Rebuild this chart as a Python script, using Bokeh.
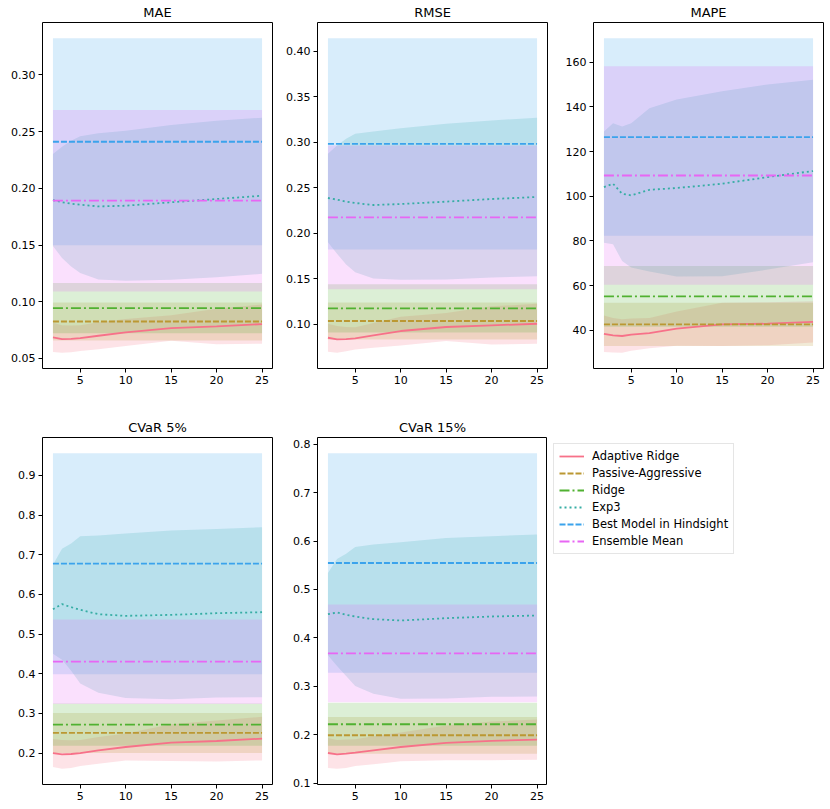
from bokeh.plotting import figure
from bokeh.models import Range1d, FixedTicker, NumeralTickFormatter, Legend, LegendItem
from bokeh.layouts import column, row
from bokeh.embed import file_html
from bokeh.resources import INLINE

# ---------------- data ----------------
X_STEPS = [2, 3, 4, 5, 7, 10, 15, 20, 25]
X_TICKS = [5, 10, 15, 20, 25]
METHODS = ["Adaptive Ridge", "Passive-Aggressive", "Ridge", "Exp3",
           "Best Model in Hindsight", "Ensemble Mean"]
COLORS = ["#f77189", "#bb9832", "#50b131", "#36ada4", "#3ba3ec", "#e866f4"]
DASHES = ["solid", "6 2", "10 3 2 3", "2 3", "6 2", "10 3 2 3"]

# MAE
MAE_AR_MEAN = [0.0685, 0.0671, 0.0673, 0.0679, 0.0700, 0.0729, 0.0768, 0.0782, 0.0803]
MAE_AR_STD = [0.0129, 0.0121, 0.0118, 0.0114, 0.0120, 0.0119, 0.0112, 0.0157, 0.0173]
MAE_EXP3_MEAN = [0.1897, 0.1877, 0.1865, 0.1856, 0.1841, 0.1847, 0.1877, 0.1906, 0.1935]
MAE_EXP3_STD = [0.0406, 0.0491, 0.0555, 0.0603, 0.0644, 0.0662, 0.0682, 0.0691, 0.0688]
MAE_CONST_MEAN = [0.0826, 0.0944, 0.2411, 0.1891]   # PA, Ridge, Best, Ensemble
MAE_CONST_STD = [0.0168, 0.0221, 0.0913, 0.0800]
MAE_TICKS = [0.05, 0.10, 0.15, 0.20, 0.25, 0.30]

# RMSE
RMSE_AR_MEAN = [0.0853, 0.0835, 0.0838, 0.0846, 0.0879, 0.0927, 0.0971, 0.0989, 0.1007]
RMSE_AR_STD = [0.0154, 0.0147, 0.0132, 0.0121, 0.0136, 0.0158, 0.0155, 0.0209, 0.0220]
RMSE_EXP3_MEAN = [0.2388, 0.2370, 0.2348, 0.2333, 0.2311, 0.2322, 0.2348, 0.2377, 0.2399]
RMSE_EXP3_STD = [0.0485, 0.0594, 0.0690, 0.0760, 0.0808, 0.0833, 0.0855, 0.0863, 0.0870]
RMSE_CONST_MEAN = [0.1037, 0.1176, 0.2983, 0.2175]
RMSE_CONST_STD = [0.0202, 0.0264, 0.1160, 0.0789]
RMSE_TICKS = [0.10, 0.15, 0.20, 0.25, 0.30, 0.35, 0.40]

# MAPE
MAPE_AR_MEAN = [38.5, 37.8, 37.5, 38.1, 38.8, 40.8, 42.7, 43.0, 43.8]
MAPE_AR_STD = [8.2, 7.7, 7.5, 7.2, 6.8, 7.7, 9.7, 9.6, 9.2]
MAPE_EXP3_MEAN = [104.1, 105.6, 101.1, 100.4, 102.9, 103.7, 105.6, 108.6, 111.3]
MAPE_EXP3_STD = [24.9, 27.1, 30.1, 32.3, 36.5, 39.6, 41.4, 41.4, 40.8]
MAPE_CONST_MEAN = [42.7, 55.2, 126.5, 109.3]
MAPE_CONST_STD = [9.7, 13.6, 44.2, 48.9]
MAPE_TICKS = [40, 60, 80, 100, 120, 140, 160]

# CVaR 5%
CV5_AR_MEAN = [0.2000, 0.1966, 0.1975, 0.2000, 0.2067, 0.2152, 0.2261, 0.2303, 0.2363]
CV5_AR_STD = [0.0354, 0.0362, 0.0350, 0.0329, 0.0337, 0.0338, 0.0464, 0.0514, 0.0549]
CV5_EXP3_MEAN = [0.5626, 0.5753, 0.5677, 0.5610, 0.5500, 0.5458, 0.5483, 0.5525, 0.5550]
CV5_EXP3_STD = [0.1122, 0.1400, 0.1603, 0.1855, 0.1982, 0.2074, 0.2125, 0.2125, 0.2143]
CV5_CONST_MEAN = [0.2506, 0.2717, 0.6773, 0.4302]
CV5_CONST_STD = [0.0506, 0.0531, 0.2784, 0.1065]
CV5_TICKS = [0.2, 0.3, 0.4, 0.5, 0.6, 0.7, 0.8, 0.9]

# CVaR 15%
CV15_AR_MEAN = [0.1622, 0.1594, 0.1608, 0.1629, 0.1677, 0.1746, 0.1829, 0.1871, 0.1898]
CV15_AR_STD = [0.0311, 0.0297, 0.0294, 0.0277, 0.0290, 0.0297, 0.0359, 0.0401, 0.0414]
CV15_EXP3_MEAN = [0.4490, 0.4524, 0.4476, 0.4441, 0.4386, 0.4358, 0.4407, 0.4441, 0.4462]
CV15_EXP3_STD = [0.0850, 0.1106, 0.1264, 0.1437, 0.1541, 0.1617, 0.1658, 0.1659, 0.1672]
CV15_CONST_MEAN = [0.1988, 0.2216, 0.5547, 0.3681]
CV15_CONST_STD = [0.0380, 0.0442, 0.2266, 0.1009]
CV15_TICKS = [0.1, 0.2, 0.3, 0.4, 0.5, 0.6, 0.7, 0.8]

FONT = "DejaVu Sans"
LW = 1.8


def series_list(ar_m, ar_s, ex_m, ex_s, c_m, c_s):
    n = len(X_STEPS)
    const = [([m] * n, [s] * n) for m, s in zip(c_m, c_s)]
    return [(ar_m, ar_s), const[0], const[1], (ex_m, ex_s), const[2], const[3]]


def make_panel(title, series, ticks, fmt, width, height, bl, br, bt, bb):
    lows = [m - s for mm, ss in series for m, s in zip(mm, ss)]
    highs = [m + s for mm, ss in series for m, s in zip(mm, ss)]
    lo, hi = min(lows), max(highs)
    pad = 0.05 * (hi - lo)
    xpad = 0.05 * (X_STEPS[-1] - X_STEPS[0])
    p = figure(width=width, height=height, output_backend="svg", toolbar_location=None,
               x_range=Range1d(X_STEPS[0] - xpad, X_STEPS[-1] + xpad),
               y_range=Range1d(lo - pad, hi + pad),
               min_border_left=bl, min_border_right=br, min_border_top=bt, min_border_bottom=bb)
    p.title.text = title
    p.title.align = "center"
    p.title.text_font = FONT
    p.title.text_font_size = "13px"
    p.title.text_font_style = "normal"
    p.title.text_color = "black"
    p.title.standoff = 5
    p.xgrid.visible = False
    p.ygrid.visible = False
    p.outline_line_color = "black"
    p.outline_line_alpha = 1
    p.outline_line_width = 1
    p.background_fill_color = "white"
    p.border_fill_color = "white"
    p.xaxis.ticker = FixedTicker(ticks=X_TICKS)
    p.yaxis.ticker = FixedTicker(ticks=ticks)
    p.yaxis.formatter = NumeralTickFormatter(format=fmt)
    for ax in (p.xaxis[0], p.yaxis[0]):
        ax.axis_line_color = None
        ax.major_tick_line_color = "black"
        ax.major_tick_out = 4
        ax.major_tick_in = 0
        ax.minor_tick_line_color = None
        ax.major_label_text_font = FONT
        ax.major_label_text_font_size = "11px"
        ax.major_label_text_color = "black"
        ax.major_label_standoff = 3
    # bands first (below), then all lines on top
    for (mm, ss), col in zip(series, COLORS):
        p.varea(x=X_STEPS, y1=[m - s for m, s in zip(mm, ss)],
                y2=[m + s for m, s in zip(mm, ss)], fill_color=col, fill_alpha=0.2)
    for (mm, ss), col, dash in zip(series, COLORS, DASHES):
        p.line(X_STEPS, mm, line_color=col, line_width=LW, line_dash=dash)
    return p


H1, H2 = 415, 393
p1 = make_panel("MAE", series_list(MAE_AR_MEAN, MAE_AR_STD, MAE_EXP3_MEAN, MAE_EXP3_STD,
                                   MAE_CONST_MEAN, MAE_CONST_STD),
                MAE_TICKS, "0.00", 283, H1, 42, 11, 20, 47)
p2 = make_panel("RMSE", series_list(RMSE_AR_MEAN, RMSE_AR_STD, RMSE_EXP3_MEAN, RMSE_EXP3_STD,
                                    RMSE_CONST_MEAN, RMSE_CONST_STD),
                RMSE_TICKS, "0.00", 276, H1, 34, 12, 20, 47)
p3 = make_panel("MAPE", series_list(MAPE_AR_MEAN, MAPE_AR_STD, MAPE_EXP3_MEAN, MAPE_EXP3_STD,
                                    MAPE_CONST_MEAN, MAPE_CONST_STD),
                MAPE_TICKS, "0", 271, H1, 34, 7, 20, 47)
p4 = make_panel("CVaR 5%", series_list(CV5_AR_MEAN, CV5_AR_STD, CV5_EXP3_MEAN, CV5_EXP3_STD,
                                       CV5_CONST_MEAN, CV5_CONST_STD),
                CV5_TICKS, "0.0", 283, H2, 42, 11, 20, 24)
p5 = make_panel("CVaR 15%", series_list(CV15_AR_MEAN, CV15_AR_STD, CV15_EXP3_MEAN, CV15_EXP3_STD,
                                        CV15_CONST_MEAN, CV15_CONST_STD),
                CV15_TICKS, "0.0", 264, H2, 34, 0, 20, 24)

# legend holder to the right of the CVaR 15% panel
p6 = figure(width=283, height=H2, output_backend="svg", toolbar_location=None,
            x_range=Range1d(0, 1), y_range=Range1d(0, 1),
            min_border_left=0, min_border_right=0, min_border_top=20, min_border_bottom=24)
p6.axis.visible = False
p6.xgrid.visible = False
p6.ygrid.visible = False
p6.outline_line_color = None
p6.title.text = " "
p6.title.text_font = FONT
p6.title.text_font_size = "13px"
p6.title.standoff = 5
# legend keys: out-of-view stand-ins carrying each method's line style
keys = [p6.line([0, 1], [-1, -1], line_color=c, line_width=LW, line_dash=d)
        for c, d in zip(COLORS, DASHES)]
legend = Legend(items=[LegendItem(label=m, renderers=[r]) for m, r in zip(METHODS, keys)],
                location="top_left", margin=6, padding=5, spacing=3,
                glyph_width=25, glyph_height=14, label_height=14, label_standoff=8,
                label_text_font=FONT, label_text_font_size="11.5px", label_text_color="black",
                border_line_color="#cccccc", border_line_width=1, background_fill_alpha=1)
p6.add_layout(legend)

layout = column(row(p1, p2, p3), row(p4, p5, p6))
open("out.html", "w").write(file_html(layout, INLINE))
